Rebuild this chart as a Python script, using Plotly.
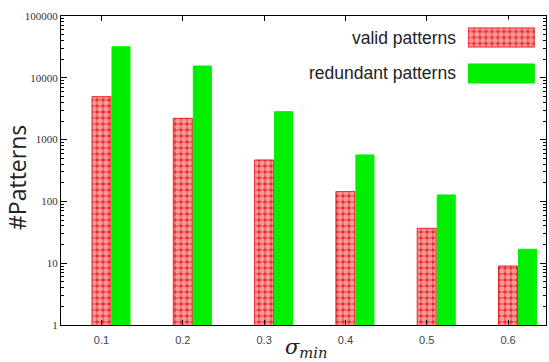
import plotly.graph_objects as go

categories = ["0.1", "0.2", "0.3", "0.4", "0.5", "0.6"]
valid_patterns = [4950, 2210, 468, 144, 36.7, 9.0]
redundant_patterns = [31800, 15500, 2830, 564, 127, 16.8]
y_tick_vals = [1, 10, 100, 1000, 10000, 100000]
y_tick_text = ["1", "10", "100", "1000", "10000", "100000"]
legend_labels = ["valid patterns", "redundant patterns"]

RED = "#e82424"
GREEN = "#00ee00"
xpos = list(range(len(categories)))

red_marker = dict(color=RED, line=dict(color=RED, width=1),
                  pattern=dict(shape=".", fgcolor="white", bgcolor="#ec3030", size=6, solidity=0.65))
green_marker = dict(color=GREEN, line=dict(color=GREEN, width=1))

fig = go.Figure()
fig.add_trace(go.Bar(x=xpos, y=valid_patterns, width=0.234, offset=-0.117,
                     marker=red_marker, showlegend=False))
fig.add_trace(go.Bar(x=xpos, y=redundant_patterns, width=0.222, offset=0.129,
                     marker=green_marker, showlegend=False))

# legend swatches on their own small axes
fig.add_trace(go.Bar(y=[legend_labels[0]], x=[1], orientation="h", width=0.53,
                     xaxis="x2", yaxis="y2", marker=red_marker,
                     showlegend=False, hoverinfo="skip"))
fig.add_trace(go.Bar(y=[legend_labels[1]], x=[1], orientation="h", width=0.53,
                     xaxis="x2", yaxis="y2", marker=green_marker,
                     showlegend=False, hoverinfo="skip"))

fig.update_layout(
    width=549, height=362,
    margin=dict(l=61, r=3, t=16, b=37, pad=0),
    paper_bgcolor="white", plot_bgcolor="white",
    barmode="overlay",
    font=dict(family="Liberation Sans", color="#333333", size=10),
    xaxis=dict(
        range=[-0.498, 5.467], tickmode="array", tickvals=xpos, ticktext=categories,
        showline=True, linecolor="black", linewidth=1, mirror="ticks",
        ticks="inside", ticklen=5, tickcolor="black", showgrid=False, zeroline=False,
        tickfont=dict(size=11, color="#444444"), ticklabelstandoff=5,
    ),
    yaxis=dict(
        type="log", range=[0, 5], tickmode="array", tickvals=y_tick_vals, ticktext=y_tick_text,
        showline=True, linecolor="black", linewidth=1, mirror="ticks",
        ticks="inside", ticklen=6, tickcolor="black", showgrid=False, zeroline=False,
        tickfont=dict(family="Liberation Serif", size=11, color="#333333"),
        minor=dict(ticks="inside", ticklen=3, tickcolor="black", dtick="D1", showgrid=False),
    ),
    xaxis2=dict(domain=[0.839, 0.977], anchor="y2", range=[0, 1], visible=False, fixedrange=True),
    yaxis2=dict(domain=[0.7557, 0.9887], anchor="x2", type="category",
                categoryorder="array", categoryarray=[legend_labels[1], legend_labels[0]],
                range=[-0.5, 1.5], visible=False, fixedrange=True),
    annotations=[
        dict(text=legend_labels[0], x=0.8186, y=0.930, xref="paper", yref="paper",
             xanchor="right", yanchor="middle", showarrow=False,
             font=dict(family="Liberation Sans", size=17.5, color="#222222")),
        dict(text=legend_labels[1], x=0.8186, y=0.814, xref="paper", yref="paper",
             xanchor="right", yanchor="middle", showarrow=False,
             font=dict(family="Liberation Sans", size=17.5, color="#222222")),
        dict(text="#Patterns", x=-0.0907, y=0.4757, xref="paper", yref="paper",
             textangle=-90, xanchor="center", yanchor="middle", showarrow=False,
             font=dict(family="Open Sans", size=23, color="#222222")),
        dict(text="<i>σ</i><sub><i>min</i></sub>", x=0.505, y=-0.074, xref="paper", yref="paper",
             xanchor="center", yanchor="middle", showarrow=False,
             font=dict(family="DejaVu Serif", size=21, color="#222222")),
    ],
)

fig.write_html("out.html", config={"displayModeBar": False},
               post_script="document.body.style.margin='0px';")
